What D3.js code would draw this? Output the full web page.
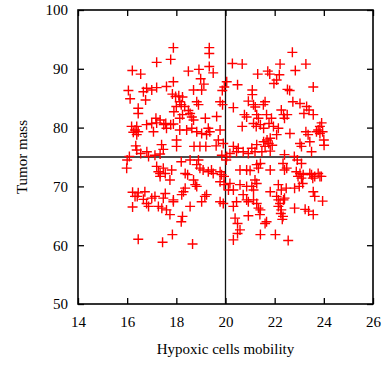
<!DOCTYPE html>
<html>
<head>
<meta charset="utf-8">
<script src="https://cdn.jsdelivr.net/npm/d3@7"></script>
<style>
  html, body { margin: 0; padding: 0; background: #fff; }
  svg text { font-family: "Liberation Serif", "DejaVu Serif", serif; fill: #000; }
</style>
</head>
<body>
<svg id="chart" width="387" height="365"></svg>
<script>
// Hypoxic cell mobility vs. tumor mass samples
const mobility = [
  17.88,19.34,19.34,22.72,17.2,17.77,20.28,20.68,23.27,19.34,16.21,16.55,18.49,18.92,19.5,18.99,19.12,
  21.31,21.72,21.8,22.22,22.19,22.08,21.97,22.84,17.88,17.6,17.2,16.79,17.0,16.66,16.05,18.7,19.03,
  20.05,19.95,19.87,20.49,21.09,21.09,22.52,22.61,23.57,16.12,16.45,16.45,16.75,17.84,17.97,18.1,18.25,
  18.14,18.2,18.34,18.0,17.9,18.83,18.9,19.78,19.88,20.32,20.93,21.14,21.21,21.61,21.54,22.74,23.03,
  23.3,23.4,23.19,23.57,18.56,18.63,18.7,18.49,18.25,18.14,19.18,19.64,20.77,20.86,21.27,21.34,21.14,
  21.25,21.67,21.87,21.77,22.27,22.36,22.51,22.4,17.17,17.34,17.2,16.18,16.39,16.32,16.45,16.25,16.39,
  16.79,17.0,17.57,17.77,17.88,17.49,17.6,18.14,18.42,18.63,18.83,19.03,19.3,19.36,19.23,19.78,17.07,
  20.68,21.42,21.55,21.95,22.15,22.08,22.62,23.91,23.84,23.77,23.95,23.84,23.7,23.27,23.36,23.43,23.5,
  24.0,24.01,23.03,23.09,18.01,18.01,18.72,18.96,19.71,19.91,19.62,17.4,17.47,16.35,16.39,16.55,16.8,
  16.87,16.09,16.0,15.98,17.13,17.34,20.32,20.52,20.45,20.18,20.72,20.93,21.07,21.27,21.2,21.55,21.69,
  21.76,21.82,21.9,21.61,21.82,21.48,20.05,20.03,18.2,18.56,18.9,18.83,18.96,19.09,17.2,17.47,17.27,
  17.34,17.55,17.81,17.34,17.74,18.36,19.3,19.5,19.43,19.78,19.84,20.59,20.86,21.0,21.27,21.42,21.34,
  21.82,22.34,22.4,22.49,22.4,22.8,22.92,23.09,22.88,23.03,23.16,22.95,23.09,23.43,23.5,23.63,23.77,
  23.84,23.9,23.55,19.78,19.94,19.94,20.18,20.12,20.32,20.59,20.86,21.07,21.2,21.27,21.14,20.72,20.86,
  20.93,21.14,21.27,21.34,21.42,21.82,22.08,22.15,22.22,22.36,22.4,22.15,22.27,22.47,22.15,22.27,22.25,
  22.34,22.31,22.81,23.0,23.14,22.81,23.24,23.38,23.57,23.63,23.57,23.95,21.67,21.61,21.4,20.93,20.39,
  20.49,20.59,20.49,20.32,21.42,22.03,22.55,20.32,20.45,19.91,19.78,16.22,16.32,16.22,16.45,16.41,16.72,
  16.66,16.79,16.87,17.0,17.13,17.27,17.41,17.55,17.47,17.6,17.74,17.88,17.88,18.22,18.29,18.36,18.25,
  18.2,18.56,18.77,18.83,19.03,19.16,19.23,16.45,17.44,17.84,18.66,18.7,18.46,19.2,19.85
];
const tumorMass = [
  93.6,93.6,92.6,92.8,91.1,91.6,90.9,90.8,90.8,90.4,89.7,89.1,89.6,89.9,89.3,88.3,87.4,
  89.1,89.6,89.1,90.8,89.0,88.1,87.5,89.7,87.8,87.0,86.8,86.7,86.4,86.1,86.3,86.4,86.4,
  87.8,86.9,86.3,87.3,86.4,85.6,86.5,86.3,86.9,84.9,83.3,82.4,84.7,85.7,85.3,85.4,85.2,
  84.4,83.9,83.6,83.6,82.7,84.4,83.9,84.4,83.9,83.4,84.5,83.9,83.5,84.4,83.9,84.4,84.1,
  83.6,83.0,82.4,82.2,82.4,81.8,81.3,82.9,82.2,81.6,81.6,81.9,82.2,81.8,82.2,81.6,80.7,
  80.2,82.2,81.6,80.7,83.0,82.2,82.2,81.6,81.6,81.3,80.8,80.2,80.2,79.6,79.3,79.2,78.8,
  80.5,80.7,80.7,80.5,80.6,80.5,79.9,79.6,79.6,79.9,79.3,79.0,79.9,79.3,78.8,79.6,79.3,
  80.2,80.5,79.9,80.2,79.9,78.8,79.0,80.8,80.2,79.6,79.3,79.0,79.3,79.3,78.8,77.6,75.9,
  77.9,77.0,77.3,76.8,77.9,76.8,76.8,76.8,77.9,77.3,76.9,77.1,76.3,76.9,76.2,75.6,75.9,
  75.1,75.1,74.5,73.1,75.3,75.5,76.8,76.5,75.9,75.6,75.9,75.6,76.5,77.1,75.9,77.6,77.9,
  77.3,78.2,77.0,76.8,76.0,75.9,75.1,74.5,74.2,74.5,74.5,73.7,73.1,72.8,73.4,73.1,72.5,
  72.2,72.2,72.8,71.7,71.1,72.2,72.5,72.2,72.8,72.5,72.0,72.8,72.8,72.7,73.7,73.9,73.1,
  72.8,73.9,72.8,73.1,75.4,75.1,74.5,73.9,72.5,72.2,72.0,71.7,71.4,72.2,72.0,71.7,72.2,
  71.7,71.7,71.4,70.8,71.7,70.3,70.5,69.4,69.4,70.3,70.0,70.0,71.1,70.5,69.4,68.6,67.7,
  67.4,67.7,67.1,66.3,66.0,69.1,68.3,67.7,67.1,67.7,68.0,70.3,69.4,69.7,66.6,66.0,65.4,
  64.9,64.4,69.7,70.0,70.5,66.3,66.1,65.8,69.1,68.3,65.2,67.5,64.0,63.7,65.2,65.0,64.6,
  63.7,62.6,62.0,60.9,61.8,61.8,60.8,66.6,67.4,67.1,67.4,69.0,68.3,66.5,68.9,68.3,69.1,
  67.8,67.1,66.6,68.0,68.3,66.6,66.3,68.8,68.0,66.0,65.2,67.7,67.4,68.6,69.1,69.7,64.9,
  64.0,66.6,70.3,70.0,67.4,68.3,68.6,61.0,60.5,61.8,60.2,71.1,72.0,76.8,75.3
];
const xTicks = [14, 16, 18, 20, 22, 24, 26];
const yTicks = [50, 60, 70, 80, 90, 100];
const xLabel = "Hypoxic cells mobility";
const yLabel = "Tumor mass";
const xCross = 20, yCross = 75;

const svg = d3.select("#chart");
const margin = { left: 78, top: 10, right: 14, bottom: 61 };
const W = 387, H = 365;

const x = d3.scaleLinear().domain([14, 26]).range([margin.left, W - margin.right]);
const y = d3.scaleLinear().domain([50, 100]).range([H - margin.bottom, margin.top]);

const points = mobility.map((m, i) => ({ m, t: tumorMass[i] }));

// Reference lines through the cross point
svg.append("line")
  .attr("x1", x(14)).attr("x2", x(26))
  .attr("y1", y(yCross)).attr("y2", y(yCross))
  .attr("stroke", "#111").attr("stroke-width", 1.3);
svg.append("line")
  .attr("x1", x(xCross)).attr("x2", x(xCross))
  .attr("y1", y(50)).attr("y2", y(100))
  .attr("stroke", "#111").attr("stroke-width", 1.3);

// Plus markers
const arm = 5;
const marks = svg.append("g").attr("stroke", "#ff0000").attr("stroke-width", 1.4).attr("fill", "none");
marks.selectAll("path").data(points).join("path")
  .attr("d", d => {
    const cx = x(d.m), cy = y(d.t);
    return `M${cx - arm},${cy}H${cx + arm}M${cx},${cy - arm}V${cy + arm}`;
  });

// Axes with inward ticks on all four sides
const tickLen = 6;
const axisFont = 15;
const axisBottomG = svg.append("g").attr("transform", `translate(0,${y(50)})`)
  .call(d3.axisBottom(x).tickValues(xTicks).tickSizeInner(-tickLen).tickSizeOuter(0).tickPadding(12));
const axisTopG = svg.append("g").attr("transform", `translate(0,${y(100)})`)
  .call(d3.axisTop(x).tickValues(xTicks).tickSizeInner(-tickLen).tickSizeOuter(0).tickFormat(""));
const axisLeftG = svg.append("g").attr("transform", `translate(${x(14)},0)`)
  .call(d3.axisLeft(y).tickValues(yTicks).tickSizeInner(-tickLen).tickSizeOuter(0).tickPadding(10));
const axisRightG = svg.append("g").attr("transform", `translate(${x(26)},0)`)
  .call(d3.axisRight(y).tickValues(yTicks).tickSizeInner(-tickLen).tickSizeOuter(0).tickFormat(""));

[axisBottomG, axisTopG, axisLeftG, axisRightG].forEach(g => {
  g.select(".domain").remove();
  g.selectAll(".tick line").attr("stroke", "#000").attr("stroke-width", 1.3);
  g.selectAll("text").attr("font-size", axisFont).attr("font-family", "Liberation Serif, serif").attr("fill", "#000");
});

// Plot frame
svg.append("rect")
  .attr("x", x(14)).attr("y", y(100))
  .attr("width", x(26) - x(14)).attr("height", y(50) - y(100))
  .attr("fill", "none").attr("stroke", "#000").attr("stroke-width", 1.6);

// Axis titles
svg.append("text")
  .attr("x", (x(14) + x(26)) / 2).attr("y", 354)
  .attr("text-anchor", "middle").attr("font-size", 15)
  .text(xLabel);
svg.append("text")
  .attr("transform", `translate(27,${(y(50) + y(100)) / 2}) rotate(-90)`)
  .attr("text-anchor", "middle").attr("font-size", 15)
  .text(yLabel);
</script>
</body>
</html>
